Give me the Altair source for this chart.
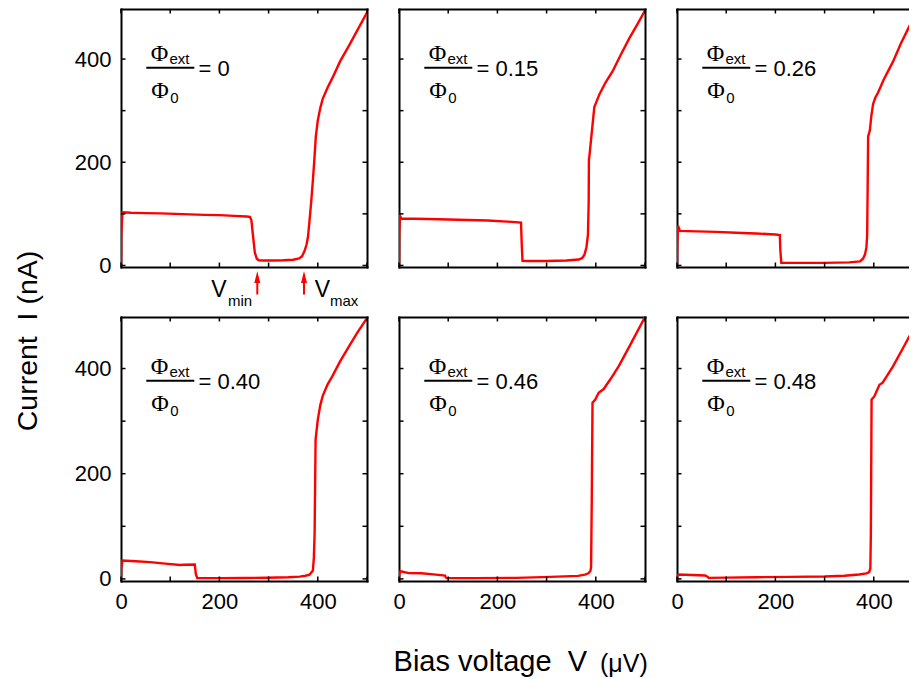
import altair as alt
import pandas as pd

# ---------------- data ----------------
flux_labels = ["0", "0.15", "0.26", "0.40", "0.46", "0.48"]

V_a = [0, 0.5, 3, 20, 50, 80, 110, 140, 170, 200, 230, 255, 262, 265, 268, 272, 276, 280, 290, 310, 330, 350,
       362, 368, 373, 377, 380, 383, 386.5, 390, 393, 396, 400, 405, 410, 420, 430, 445, 464, 480, 500]
I_a = [0, 60, 103, 102, 101.5, 101, 100, 99, 98, 97.5, 96, 95, 94, 88, 60, 25, 13, 10, 9.5, 9.5, 10, 11,
       13.5, 18, 28, 40, 55, 85, 122, 165, 205, 250, 281, 305, 323, 345, 364, 395, 427, 455, 490]

V_b = [0, 0.5, 2, 5, 30, 60, 100, 140, 180, 220, 248, 249.5, 251, 260, 300, 340, 365, 372, 377, 381, 384,
       385.5, 386, 387, 391, 397, 407.5, 420, 434, 450, 468, 485, 500]
I_b = [0, 60, 96, 91, 90.5, 90, 89, 88, 87, 85, 83, 40, 9, 8.5, 8.5, 9.5, 11.5, 14, 21, 35, 59,
       120, 205, 212, 250, 307, 332, 355, 376, 407, 440, 468, 494]

V_c = [0, 0.5, 2, 6, 40, 80, 120, 160, 200, 209, 210, 212, 250, 300, 350, 372, 378, 382, 385, 386.5, 387.5,
       388.5, 390, 392, 395, 398.6, 403, 408.7, 420, 439, 455, 473, 487]
I_c = [0, 40, 77, 67, 66, 65, 63.5, 62, 60, 59, 30, 5, 5, 5, 6, 8, 13, 21, 35, 59, 150,
       250, 255, 262, 290, 313, 325, 335, 360, 395, 430, 465, 481]

V_d = [0, 0.5, 3, 30, 59, 90, 120, 127, 150, 152, 155, 200, 250, 295, 340, 363, 375, 383, 390, 392, 393.5,
       395.5, 400, 405, 410, 420, 430, 445, 464, 480, 500]
I_d = [0, 20, 35, 33.5, 31.8, 29, 26.5, 27, 27.4, 10, 1.5, 1.5, 1.8, 2.2, 3, 4.4, 6, 8, 16, 40, 86,
       265, 303, 330, 348, 370, 386, 413, 443, 468, 496]

V_e = [0, 0.5, 3, 20, 45, 70, 93.5, 95, 97, 150, 239, 308, 364, 378, 385, 389, 390.4, 391.8, 393.3, 399,
       405.8, 416, 430, 447, 470, 499.5]
I_e = [0, 8, 14.6, 11, 10.7, 8.5, 6.3, 3, 1.5, 1.5, 2, 3.8, 5.7, 8, 10.7, 15, 22, 150, 335, 341,
       354, 361, 380, 405, 445, 497]

V_f = [0, 0.5, 3, 30, 57, 62, 64.5, 100, 161.5, 230, 300, 340, 370, 385, 390.6, 393, 394, 395.5, 401,
       411.5, 418, 439, 460, 487]
I_f = [0, 5, 8.3, 7.5, 6.4, 4, 2, 2.5, 3.2, 3.8, 4.5, 6, 8.3, 10.5, 12.7, 20, 86, 341, 347,
       369, 373, 404, 440, 487]

series_V = [V_a, V_b, V_c, V_d, V_e, V_f]
series_I = [I_a, I_b, I_c, I_d, I_e, I_f]

x_tick_values = [0, 100, 200, 300, 400, 500]
y_tick_values = [0, 100, 200, 300, 400]
label_values = [0, 200, 400]
marker_names = ["min", "max"]
marker_V = [277, 372]

NB = "\u00a0"
y_title = "Current" + NB + NB + "I (nA)"
x_title_main = "Bias voltage" + NB + NB + "V"
x_title_unit = "(\u03bcV)"

# ---------------- styling ----------------
SANS = "Liberation Sans"
SERIF = "Liberation Serif"
RED = "#ff0000"
W = 246
W_LAST = 232
H_TOP = 258
H_BOT = 264


def make_panel(k):
    row, col = divmod(k, 3)
    w = W_LAST if col == 2 else W
    h = H_TOP if row == 0 else H_BOT
    xmax = 500.0 * w / W
    dy = -5 if row == 0 else 0
    ydom = [-3, 497] if row == 0 else [-4, 498]
    xs = alt.Scale(domain=[0, xmax], nice=False, zero=False)
    ys = alt.Scale(domain=ydom, nice=False, zero=False)
    common = dict(domain=True, domainColor="black", domainWidth=2, domainCap="square",
                  ticks=False, tickSize=0, grid=False, title=None,
                  labelFont=SANS, labelFontSize=22, labelColor="black")
    ax_bottom = alt.Axis(orient="bottom", values=label_values, labels=(row == 1),
                         labelPadding=10, labelFlush=False, **common)
    ax_left = alt.Axis(orient="left", values=label_values, labels=(col == 0),
                       labelPadding=10, **common)
    ax_top = alt.Axis(orient="top", labels=False, **common)
    ax_right = alt.Axis(orient="right", labels=False, **common)

    df = pd.DataFrame({"V": series_V[k], "I": series_I[k]})
    line = alt.Chart(df).mark_line(color=RED, strokeWidth=2.4, clip=True).encode(
        x=alt.X("V:Q", scale=xs, axis=ax_bottom),
        y=alt.Y("I:Q", scale=ys, axis=ax_left),
        order="V:Q",
    )

    xt = pd.DataFrame({"t": [t for t in x_tick_values if t <= xmax]})
    yt = pd.DataFrame({"t": y_tick_values})
    tick_style = dict(color="black", strokeWidth=1.5)
    top_ticks = alt.Chart(xt).mark_rule(**tick_style).encode(
        x=alt.X("t:Q", scale=xs, axis=ax_top), y=alt.value(0), y2=alt.value(4.5))
    bot_ticks = alt.Chart(xt).mark_rule(**tick_style).encode(
        x=alt.X("t:Q", scale=xs, axis=None), y=alt.value(h), y2=alt.value(h - 4.5))
    left_ticks = alt.Chart(yt).mark_rule(**tick_style).encode(
        y=alt.Y("t:Q", scale=ys, axis=None), x=alt.value(0), x2=alt.value(4.5))
    layers = [line, top_ticks, bot_ticks, left_ticks]
    if col < 2:
        right_ticks = alt.Chart(yt).mark_rule(**tick_style).encode(
            y=alt.Y("t:Q", scale=ys, axis=ax_right), x=alt.value(w - 4.5), x2=alt.value(w))
        layers.append(right_ticks)

    # flux ratio label
    lab = pd.DataFrame({"phi": ["\u03a6"], "sub1": ["ext"], "sub2": ["0"],
                        "val": ["= " + flux_labels[k]]})
    base = alt.Chart(lab)
    layers += [
        base.mark_text(font=SERIF, fontSize=24, align="center", baseline="alphabetic", color="black").encode(
            text="phi:N", x=alt.value(38.5), y=alt.value(57 + dy)),
        base.mark_text(font=SANS, fontSize=15, align="left", baseline="alphabetic", color="black").encode(
            text="sub1:N", x=alt.value(48.5), y=alt.value(59.5 + dy)),
        base.mark_rule(color="black", strokeWidth=2).encode(
            x=alt.value(25.3), x2=alt.value(73.3), y=alt.value(63.7 + dy)),
        base.mark_text(font=SERIF, fontSize=24, align="center", baseline="alphabetic", color="black").encode(
            text="phi:N", x=alt.value(39), y=alt.value(93.7 + dy)),
        base.mark_text(font=SANS, fontSize=15, align="left", baseline="alphabetic", color="black").encode(
            text="sub2:N", x=alt.value(49.3), y=alt.value(98.7 + dy)),
        base.mark_text(font=SANS, fontSize=22, align="left", baseline="alphabetic", color="black").encode(
            text="val:N", x=alt.value(77.5), y=alt.value(72 + dy)),
    ]

    if k == 0:
        mk = pd.DataFrame({"V": marker_V, "name": marker_names})
        mbase = alt.Chart(mk)
        layers += [
            mbase.mark_rule(color=RED, strokeWidth=2).encode(
                x=alt.X("V:Q", scale=xs, axis=None), y=alt.value(268), y2=alt.value(285.5)),
            mbase.mark_point(shape="M0,-1L0.5,1L-0.5,1Z", filled=True, size=144, color=RED, opacity=1).encode(
                x=alt.X("V:Q", scale=xs, axis=None), y=alt.value(268)),
        ]
        mins = pd.DataFrame({"vl": ["V"], "sub": ["min"]})
        maxs = pd.DataFrame({"vl": ["V"], "sub": ["max"]})
        layers += [
            alt.Chart(mins).mark_text(font=SANS, fontSize=23, align="center", baseline="alphabetic", color="black").encode(
                text="vl:N", x=alt.value(98), y=alt.value(288)),
            alt.Chart(mins).mark_text(font=SANS, fontSize=15, align="left", baseline="alphabetic", color="black").encode(
                text="sub:N", x=alt.value(107), y=alt.value(297)),
            alt.Chart(maxs).mark_text(font=SANS, fontSize=23, align="center", baseline="alphabetic", color="black").encode(
                text="vl:N", x=alt.value(201.5), y=alt.value(288)),
            alt.Chart(maxs).mark_text(font=SANS, fontSize=15, align="left", baseline="alphabetic", color="black").encode(
                text="sub:N", x=alt.value(209), y=alt.value(297)),
        ]
    if k == 3:
        t = pd.DataFrame({"t": [y_title]})
        layers.append(alt.Chart(t).mark_text(font=SANS, fontSize=28.5, angle=270, align="center",
                                             baseline="middle", color="black").encode(
            text="t:N", x=alt.value(-93), y=alt.value(24)))
    if k == 4:
        t = pd.DataFrame({"a": [x_title_main], "b": [x_title_unit]})
        layers += [
            alt.Chart(t).mark_text(font=SANS, fontSize=29, align="right", baseline="alphabetic", color="black").encode(
                text="a:N", x=alt.value(188), y=alt.value(354)),
            alt.Chart(t).mark_text(font=SANS, fontSize=25, align="left", baseline="alphabetic", color="black").encode(
                text="b:N", x=alt.value(201), y=alt.value(355)),
        ]

    return alt.layer(*layers).resolve_axis(x="independent", y="independent").properties(width=w, height=h)


panels = [make_panel(k) for k in range(6)]

chart = alt.concat(*panels, columns=3, spacing={"row": 50, "column": 32},
                   bounds="flush", align="each").properties(
    padding={"left": 5, "top": 0, "right": 0, "bottom": 0},
    background="white",
).configure_view(strokeOpacity=0)

chart.save("out.html", embed_options={"renderer": "svg", "actions": False})
